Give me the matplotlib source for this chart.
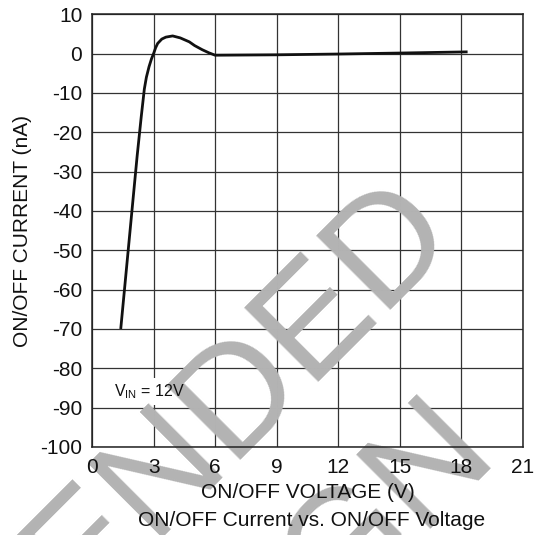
import matplotlib
matplotlib.use('agg')
import matplotlib.pyplot as plt

plt.rcParams['font.family'] = ['Liberation Sans', 'DejaVu Sans']
plt.rcParams['mathtext.fontset'] = 'custom'
plt.rcParams['mathtext.rm'] = 'Liberation Sans'
plt.rcParams['axes.unicode_minus'] = False

# curve
voltage = [1.4, 1.6, 1.8, 2.0, 2.2, 2.4, 2.55, 2.65, 2.78, 2.9, 3.0, 3.1, 3.2,
           3.4, 3.6, 3.93, 4.3, 4.74, 5.0, 5.37, 5.7, 6.0, 9.0, 12.0, 15.0, 18.3]
current = [-70, -59, -48, -37, -26, -16, -9, -6, -3.3, -1.3, 0, 1.5, 2.6,
           3.7, 4.2, 4.5, 4.0, 3.0, 2.05, 1.0, 0.2, -0.4, -0.3, -0.1, 0.15, 0.45]

x_ticks = [0, 3, 6, 9, 12, 15, 18, 21]
y_ticks = [10, 0, -10, -20, -30, -40, -50, -60, -70, -80, -90, -100]

fig = plt.figure(figsize=(5.48, 5.35), dpi=100)
ax = fig.add_axes([92/548, 1-447/535, (523-92)/548, (447-14.3)/535])

# grid drawn by hand so the watermark can sit between grid and labels
for x in x_ticks:
    ax.axvline(x, color='#333333', lw=0.9, zorder=1)
for y in y_ticks:
    ax.axhline(y, color='#333333', lw=0.9, zorder=1)

ax.plot(voltage, current, color='#111111', lw=2, zorder=3, solid_capstyle='butt')

ax.set_xlim(0, 21)
ax.set_ylim(-100, 10)
ax.set_xticks(x_ticks)
ax.set_yticks(y_ticks)
ax.set_axisbelow(False)
ax.tick_params(length=0, labelsize=15, colors='#111111')
ax.tick_params(axis='x', pad=8)
ax.tick_params(axis='y', pad=7)
for s in ax.spines.values():
    s.set_color('#222222')
    s.set_linewidth(1.1)

ax.set_ylabel('ON/OFF CURRENT (nA)', fontsize=15, color='#111111', labelpad=6)
ax.set_xlabel('ON/OFF VOLTAGE (V)', fontsize=15, color='#111111', labelpad=4)
fig.text(312/548, 1-526/535, 'ON/OFF Current vs. ON/OFF Voltage', fontsize=15,
         ha='center', va='baseline', color='#111111')

# V_IN note: white box under the watermark, text over it
vin = r'V$_{\rm IN}$ = 12V'
ax.text(1.05, -87.0, vin, fontsize=11.5, color='white', zorder=1.5,
        bbox=dict(facecolor='white', edgecolor='none', pad=3))
ax.text(1.05, -87.0, vin, fontsize=11.5, color='#111111', zorder=4)

# watermark
wm = dict(fontsize=110, color='#b3b3b3', rotation=45, rotation_mode='anchor',
          ha='right', va='baseline', transform=fig.transFigure,
          clip_on=False, zorder=2)
ax.text(460/548, 1-240/535, 'NOT RECOMMENDED', **wm)
ax.text(500/548, 1-459/535, 'FOR NEW DESIGN', **wm)

fig.savefig('out.png', dpi=100)
